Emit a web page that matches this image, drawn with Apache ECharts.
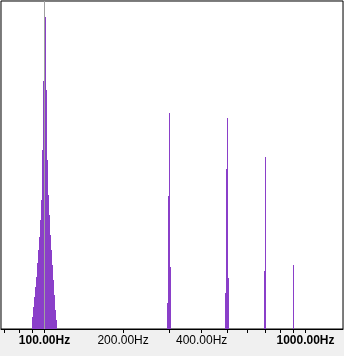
<!DOCTYPE html>
<html>
<head>
<meta charset="utf-8">
<script src="https://cdn.jsdelivr.net/npm/echarts@6/dist/echarts.min.js"></script>
<style>
html,body{margin:0;padding:0;background:#f0f0f0;}
#c{width:344px;height:356px;}
</style>
</head>
<body>
<div id="c"></div>
<script>
// Spectrum bins (frequency in Hz) and normalized amplitudes
const freqs = [
  89.9, 90.8, 91.6, 92.4, 93.2, 94.0, 94.8, 95.7, 96.5, 97.4, 98.2, 99.1, 100.0,
  100.9, 101.8, 102.7, 103.6, 104.5, 105.4, 106.4, 107.3, 108.3, 109.2, 110.2, 111.2,
  296.0, 298.6, 301.3, 303.9,
  493.6, 498.0, 502.4, 506.9,
  696.6, 702.8,
  899.6
];
const amps = [
  0.037, 0.067, 0.098, 0.128, 0.159, 0.201, 0.241, 0.280, 0.332, 0.393, 0.546, 0.756, 0.97,
  0.951, 0.729, 0.515, 0.409, 0.348, 0.287, 0.241, 0.195, 0.149, 0.104, 0.058, 0.027,
  0.079, 0.405, 0.659, 0.189,
  0.110, 0.488, 0.643, 0.155,
  0.177, 0.524,
  0.195
];
const markerFreq = 100;
const tickFreqs = [70, 80, 90, 100, 200, 300, 400, 500, 600, 700, 800, 900, 1000];
const labelFreqs = [100, 200, 400, 1000];
const boldFreqs = [100, 1000];
const xMin = 68.13, xMax = 1392;

const data = freqs.map((f, i) => [f, amps[i]]);

const chart = echarts.init(document.getElementById('c'), null, {renderer: 'canvas'});
chart.setOption({
  animation: false,
  backgroundColor: '#f0f0f0',
  grid: {
    left: 1, right: 1, top: 1, bottom: 27,
    show: true, backgroundColor: '#ffffff', borderColor: '#000', borderWidth: 1
  },
  xAxis: {
    type: 'log', logBase: 10, min: xMin, max: xMax,
    axisLine: {show: true, lineStyle: {color: '#000', width: 1}},
    axisTick: {show: true, length: 4, inside: false, customValues: tickFreqs, lineStyle: {color: '#000'}},
    minorTick: {show: false},
    splitLine: {show: false},
    axisLabel: {
      show: true, customValues: labelFreqs, margin: 6,
      formatter: function (v) {
        const s = Number(v).toFixed(2) + 'Hz';
        return boldFreqs.indexOf(Math.round(v)) >= 0 ? '{b|' + s + '}' : '{n|' + s + '}';
      },
      rich: {
        b: {fontFamily: 'Liberation Sans', fontWeight: 'bold', fontSize: 12, color: '#000'},
        n: {fontFamily: 'Liberation Sans Narrow, Liberation Sans', fontSize: 12, color: '#000'}
      }
    }
  },
  yAxis: {type: 'value', min: 0, max: 1, show: false, splitLine: {show: false}},
  series: [{
    type: 'custom',
    clip: true,
    data: data,
    renderItem: function (params, api) {
      const top = api.coord([api.value(0), api.value(1)]);
      const base = api.coord([api.value(0), 0]);
      const x = Math.floor(top[0]);
      return {
        type: 'rect',
        shape: {x: x, y: Math.round(top[1]), width: 1, height: Math.round(base[1]) - Math.round(top[1])},
        style: {fill: '#8a3fc9'}
      };
    },
    markLine: {
      silent: true, symbol: ['none', 'none'], label: {show: false},
      lineStyle: {color: '#a0a0a0', width: 1, type: 'solid'},
      data: [{xAxis: markerFreq}]
    }
  }]
});
</script>
</body>
</html>
